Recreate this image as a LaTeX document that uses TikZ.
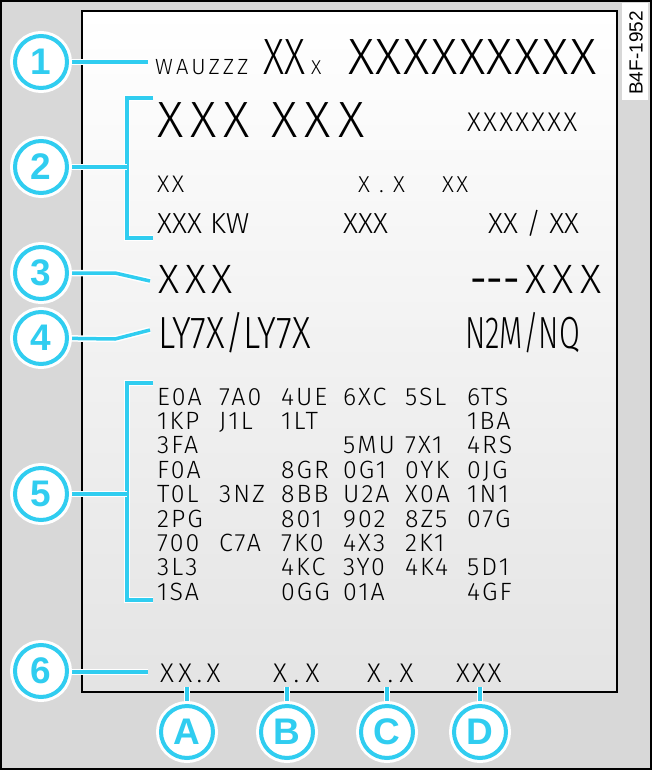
\documentclass[tikz,border=0pt]{standalone}
\usepackage{fontspec}
\newfontfamily\plot{Fira Sans Light}
\newfontfamily\plotc[FakeStretch=0.8]{Fira Sans Light}
\newfontfamily\plotcc[FakeStretch=0.67]{Fira Sans Light}
\newfontfamily\plotreg{Fira Sans}
\newfontfamily\lab{Liberation Sans}
\newfontfamily\numf{Liberation Sans Bold}
\definecolor{cyanb}{RGB}{48,205,240}
\definecolor{outergray}{RGB}{216,216,216}
\definecolor{cardbot}{RGB}{228,228,228}
\pgfdeclarelayer{bg}
\pgfdeclarelayer{conn}
\pgfsetlayers{bg,conn,main}
\tikzset{
  txt/.style 2 args={font=\plot\fontsize{#1}{#1}\selectfont\addfontfeature{LetterSpace=#2}, inner sep=0pt, anchor=base west},
  txtc/.style 2 args={font=\plotc\fontsize{#1}{#1}\selectfont\addfontfeature{LetterSpace=#2}, inner sep=0pt, anchor=base west},
  txtcc/.style 2 args={font=\plotcc\fontsize{#1}{#1}\selectfont\addfontfeature{LetterSpace=#2}, inner sep=0pt, anchor=base west},
  code/.style={txt={25}{8}},
  callout/.style={circle, draw=cyanb, line width=4pt, fill=white, minimum size=52pt, inner sep=0pt,
    preaction={draw=white, line width=10pt},
    text=cyanb, font=\numf\fontsize{37}{37}\selectfont},
  conn/.style={draw=cyanb, line width=3.5pt, preaction={draw=white, line width=6.5pt}, line join=miter},
}
\begin{document}
\begin{tikzpicture}[x=1pt,y=-1pt]
\begin{pgfonlayer}{bg}
  \fill[outergray] (0,0) rectangle (652,770);
  \draw[black, line width=2pt] (1,1) rectangle (651,769);
  \shade[top color=white, bottom color=cardbot] (82,11) rectangle (617,692);
  \draw[black, line width=1.6pt] (82,11) rectangle (617,692);
  \fill[white] (622,3) rectangle (648,100);
\end{pgfonlayer}
\node[font=\lab\fontsize{19}{19}\selectfont, rotate=90, inner sep=0pt] (fig) at (636,53) {B4F-1952};

% callout circles
\node[callout] (c1) at (41,62) {1};
\node[callout] (c2) at (41,167) {2};
\node[callout] (c3) at (41,273) {3};
\node[callout] (c4) at (41,338) {4};
\node[callout] (c5) at (41,494) {5};
\node[callout] (c6) at (41,671) {6};
\node[callout] (cA) at (187,732) {A};
\node[callout] (cB) at (287,732) {B};
\node[callout] (cC) at (387,732) {C};
\node[callout] (cD) at (480,732) {D};

% row 1
\node[txt={22}{14}] (t1a) at (155,75) {WAUZZZ};
\node[txtc={51}{0}] (t1b) at (263,75) {XX};
\node[txt={20}{0}] (t1c) at (311,75) {X};
\node[txt={51}{3}] (t1d) at (348,75) {XXXXXXXXX};
% row 2
\node[txt={51}{14}] (t2a) at (157,138) {XXX XXX};
\node[txt={27}{8}] (t2b) at (467,132) {XXXXXXX};
\node[txt={24}{10}] (t2c) at (157,193) {XX};
\node[txt={23}{40}] (t2d) at (358,193) {X.X};
\node[txt={23}{10}] (t2e) at (442,193) {XX};
\node[txt={29}{0}] (t2f) at (157,233) {XXX KW};
\node[txt={29}{0}] (t2g) at (343,233) {XXX};
\node[txt={29}{0}] (t2h) at (488,233) {XX / XX};
% row 3
\node[txt={41}{14}] (t3a) at (158,293) {XXX};
\node[font=\plotreg\fontsize{41}{41}\selectfont, inner sep=0pt, anchor=base west] (t3b) at (470,293) {-{}-{}-};
\node[txt={41}{16}] (t3c) at (525,293) {XXX};
% row 4
\node[txtc={45}{0}] (t4a) at (158,348) {LY7X/LY7X};
\node[txtcc={45}{0}] (t4b) at (465,348) {N2M/NQ};
% row 5 codes
\foreach \r/\row in {
  1/{1/E0A,2/7A0,3/4UE,4/6XC,5/5SL,6/6TS},
  2/{1/1KP,2/J1L,3/1LT,6/1BA},
  3/{1/3FA,4/5MU,5/7X1,6/4RS},
  4/{1/F0A,3/8GR,4/0G1,5/0YK,6/0JG},
  5/{1/T0L,2/3NZ,3/8BB,4/U2A,5/X0A,6/1N1},
  6/{1/2PG,3/801,4/902,5/8Z5,6/07G},
  7/{1/700,2/C7A,3/7K0,4/4X3,5/2K1},
  8/{1/3L3,3/4KC,4/3Y0,5/4K4,6/5D1},
  9/{1/1SA,3/0GG,4/01A,6/4GF}}{
  \foreach \c/\t in \row {
    \node[code] (p\r-\c) at ({157+62*(\c-1)},{405+24.4*(\r-1)}) {\t};
  }
}
% row 6
\node[txt={27}{16}] (t6a) at (160,682) {XX.X};
\node[txt={27}{24}] (t6b) at (273,682) {X.X};
\node[txt={27}{24}] (t6c) at (367,682) {X.X};
\node[txt={27}{7}] (t6d) at (456,682) {XXX};

% connector end points
\coordinate (e1) at (148,62);
\coordinate (b2t) at (153,98);
\coordinate (b2m) at (127,167);
\coordinate (b2b) at (153,238);
\coordinate (k3) at (115,273);
\coordinate (e3) at (150,281);
\coordinate (k4) at (115,339);
\coordinate (e4) at (150,330);
\coordinate (b5t) at (153,383);
\coordinate (b5m) at (127,494);
\coordinate (b5b) at (153,600);
\coordinate (e6) at (148,672);
\coordinate (eA) at (187,687);
\coordinate (eB) at (287,687);
\coordinate (eC) at (387,687);
\coordinate (eD) at (480,687);

\begin{pgfonlayer}{conn}
  \draw[conn] (c1.center) -- (e1);
  \draw[conn] (b2t) -| (b2m) |- (b2b);
  \draw[conn] (c2.center) -- (b2m);
  \draw[conn] (c3.center) -- (k3) -- (e3);
  \draw[conn] (c4.center) -- (k4) -- (e4);
  \draw[conn] (b5t) -| (b5m) |- (b5b);
  \draw[conn] (c5.center) -- (b5m);
  \draw[conn] (c6.center) |- (e6);
  \draw[conn] (cA.center) -- (eA);
  \draw[conn] (cB.center) -- (eB);
  \draw[conn] (cC.center) -- (eC);
  \draw[conn] (cD.center) -- (eD);
\end{pgfonlayer}
\end{tikzpicture}
\end{document}
